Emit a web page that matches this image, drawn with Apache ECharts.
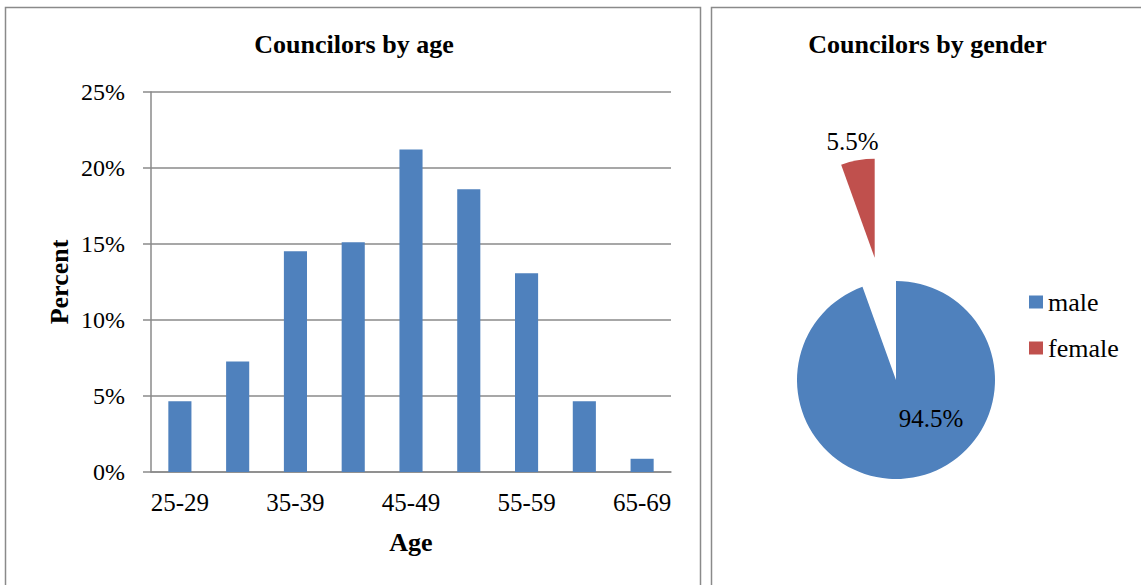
<!DOCTYPE html>
<html lang="en">
<head>
    <meta charset="UTF-8">
    <title>Councilors by age and gender</title>
    <script type="text/javascript" src="https://cdn.jsdelivr.net/npm/echarts@6/dist/echarts.min.js"></script>
    <style>
        html, body { margin: 0; padding: 0; background: #fff; overflow: hidden; }
        #main { width: 1141px; height: 585px; }
    </style>
</head>
<body>
<div id="main"></div>
<script type="text/javascript">
    var ageGroups = ['25-29', '30-34', '35-39', '40-44', '45-49', '50-54', '55-59', '60-64', '65-69'];
    var agePercent = [4.65, 7.27, 14.53, 15.12, 21.22, 18.60, 13.08, 4.65, 0.87];
    var genderNames = ['male', 'female'];
    var genderPercent = [94.5, 5.5];
    var genderColors = ['#4f81bd', '#c0504d'];

    var serif = "'Liberation Serif', 'Times New Roman', serif";
    var gray = '#8a8a8a';

    var chartDom = document.getElementById('main');
    var myChart = echarts.init(chartDom, null, {renderer: 'svg'});

    var pieData = [];
    for (var i = 0; i < genderNames.length; i++) {
        pieData.push({
            name: genderNames[i],
            value: genderPercent[i],
            itemStyle: {color: genderColors[i]}
        });
    }
    // label spots roughly where excel put them
    pieData[0].label = {position: 'inside', offset: [26, -13]};
    pieData[1].label = {position: 'inside', offset: [-13, -65]};
    pieData[1].select = {label: {offset: [-13, -65]}};
    pieData[1].selected = true;

    var option = {
        animation: false,
        textStyle: {fontFamily: serif},
        graphic: [
            {type: 'rect', shape: {x: 5.5, y: 7.5, width: 695, height: 700},
                style: {fill: 'none', stroke: gray, lineWidth: 1.5}},
            {type: 'rect', shape: {x: 711.5, y: 7.5, width: 600, height: 700},
                style: {fill: 'none', stroke: gray, lineWidth: 1.5}},
            {type: 'text', x: 354, y: 44,
                style: {text: 'Councilors by age', font: 'bold 26px ' + serif, fill: '#000',
                    textAlign: 'center', textVerticalAlign: 'middle'}},
            {type: 'text', x: 927.5, y: 44,
                style: {text: 'Councilors by gender', font: 'bold 26px ' + serif, fill: '#000',
                    textAlign: 'center', textVerticalAlign: 'middle'}}
        ],
        grid: {left: 151, top: 92, width: 520, height: 380},
        xAxis: {
            type: 'category',
            data: ageGroups,
            name: 'Age',
            nameLocation: 'middle',
            nameGap: 57,
            nameTextStyle: {fontFamily: serif, fontWeight: 'bold', fontSize: 26, color: '#000'},
            axisLine: {lineStyle: {color: gray, width: 1.5}},
            axisTick: {length: 5, lineStyle: {color: gray, width: 1.5}},
            axisLabel: {interval: 1, margin: 18, fontFamily: serif, fontSize: 25, color: '#000'}
        },
        yAxis: {
            type: 'value',
            min: 0,
            max: 25,
            interval: 5,
            name: 'Percent',
            nameLocation: 'middle',
            nameGap: 79,
            nameRotate: 90,
            nameTextStyle: {fontFamily: serif, fontWeight: 'bold', fontSize: 26, color: '#000'},
            axisLine: {show: true, lineStyle: {color: gray, width: 1.5}},
            axisTick: {show: true, length: 8, lineStyle: {color: gray, width: 1.5}},
            axisLabel: {margin: 26, formatter: '{value}%', fontFamily: serif, fontSize: 24, color: '#000'},
            splitLine: {lineStyle: {color: gray, width: 1.5}}
        },
        legend: {
            orient: 'vertical',
            left: 1024,
            top: 284,
            icon: 'rect',
            itemWidth: 14,
            itemHeight: 13,
            itemGap: 20,
            data: genderNames,
            textStyle: {fontFamily: serif, fontSize: 26, color: '#000'}
        },
        series: [
            {
                name: 'Councilors by age',
                type: 'bar',
                data: agePercent,
                barWidth: '40%',
                itemStyle: {color: '#4f81bd'}
            },
            {
                name: 'Councilors by gender',
                type: 'pie',
                center: [896, 380],
                radius: 99,
                startAngle: 90,
                clockwise: true,
                selectedMode: 'single',
                selectedOffset: 124,
                data: pieData,
                label: {
                    formatter: function (p) { return p.value + '%'; },
                    fontFamily: serif,
                    fontSize: 25,
                    color: '#000'
                },
                labelLine: {show: false},
                emphasis: {disabled: true},
                select: {itemStyle: {borderWidth: 0}}
            }
        ]
    };

    option && myChart.setOption(option);
</script>
</body>
</html>
